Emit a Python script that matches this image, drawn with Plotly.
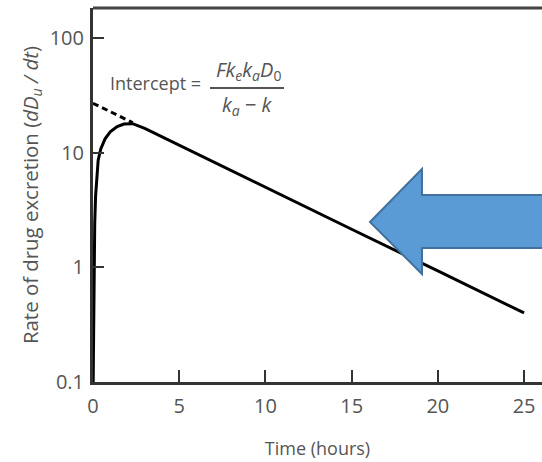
import plotly.graph_objects as go

# Urinary excretion rate after oral dosing (semi-log plot)
time_h = [0.01, 0.03, 0.06, 0.1, 0.15, 0.2, 0.3, 0.45, 0.7, 1.0, 1.4, 1.8, 2.3, 3.0, 5.0, 10.0, 15.0, 20.0, 25.0]
rate = [0.1, 0.4, 1.2, 2.4, 4.2, 5.8, 8.6, 10.8, 13.2, 15.2, 16.9, 17.8, 17.9, 16.3, 11.6, 5.0, 2.15, 0.93, 0.40]

# Back-extrapolated terminal line to the intercept
extrap_t = [0.0, 2.3]
extrap_rate = [27.0, 18.3]

x_ticks = [0, 5, 10, 15, 20, 25]
y_ticks = [0.1, 1, 10, 100]
y_tick_text = ["0.1", "1", "10", "100"]

W, H = 542, 462
ML, MR, MT, MB = 93, 0, 8, 80
PW, PH = W - ML - MR, H - MT - MB


def px(x):
    return (x - ML) / PW


def py(y):
    return (H - MB - y) / PH


FONT = "Open Sans"
GREY = "#555555"

fig = go.Figure()
fig.add_trace(go.Scatter(x=time_h, y=rate, mode="lines",
                         line=dict(color="black", width=3), hoverinfo="skip"))
fig.add_trace(go.Scatter(x=extrap_t, y=extrap_rate, mode="lines",
                         line=dict(color="black", width=3, dash="6px,4px"), hoverinfo="skip"))

fig.update_layout(
    width=W, height=H,
    margin=dict(l=ML, r=MR, t=MT, b=MB),
    paper_bgcolor="white", plot_bgcolor="white",
    showlegend=False,
    font=dict(family=FONT, color=GREY),
    xaxis=dict(
        range=[0, 26.04], tickvals=x_ticks, ticks="inside", ticklen=12, tickwidth=2,
        tickcolor="#333", showline=True, linecolor="#333", linewidth=3,
        showgrid=False, zeroline=False, tickfont=dict(size=20, color=GREY),
        ticklabelstandoff=4,
        title=dict(text="Time (hours)", font=dict(size=18, color=GREY), standoff=25),
    ),
    yaxis=dict(
        type="log", range=[-1, 2.262], tickvals=y_ticks, ticktext=y_tick_text,
        ticks="inside", ticklen=11, tickwidth=2, tickcolor="#333",
        showline=True, linecolor="#333", linewidth=3, showgrid=False, zeroline=False,
        tickfont=dict(size=20, color=GREY), ticklabelstandoff=2,
        title=dict(text="Rate of drug excretion (<i>dD</i><sub><i>u</i></sub><i> / dt</i>)",
                   font=dict(size=20.4, color=GREY), standoff=6),
    ),
)

# Top frame line
fig.add_shape(type="line", xref="paper", yref="paper", x0=0, x1=1.01, y0=1, y1=1,
              line=dict(color="#444", width=3))

# Intercept formula
ann = dict(xref="paper", yref="paper", showarrow=False, xanchor="center", yanchor="middle")
fig.add_annotation(x=px(155), y=py(83), text="Intercept =",
                   font=dict(size=18, color=GREY), **ann)
fig.add_annotation(x=px(248), y=py(70),
                   text="<i>Fk</i><sub><i>e</i></sub><i>k</i><sub><i>a</i></sub><i>D</i><sub>0</sub>",
                   font=dict(size=20, color=GREY), **ann)
fig.add_shape(type="line", xref="paper", yref="paper", x0=px(210), x1=px(284),
              y0=py(88), y1=py(88), line=dict(color=GREY, width=2))
fig.add_annotation(x=px(247), y=py(105),
                   text="<i>k</i><sub><i>a</i></sub> − <i>k</i>",
                   font=dict(size=20, color=GREY), **ann)

# Block arrow pointing at the terminal slope
arrow_pts = [(370, 222), (422, 169), (422, 195), (545, 195), (545, 248), (422, 248), (422, 274)]
path = "M " + " L ".join(f"{px(a):.4f},{py(b):.4f}" for a, b in arrow_pts) + " Z"
fig.add_shape(type="path", xref="paper", yref="paper", path=path,
              fillcolor="#5B9BD5", line=dict(color="#41719C", width=2), layer="above")

fig.write_html("out.html")
